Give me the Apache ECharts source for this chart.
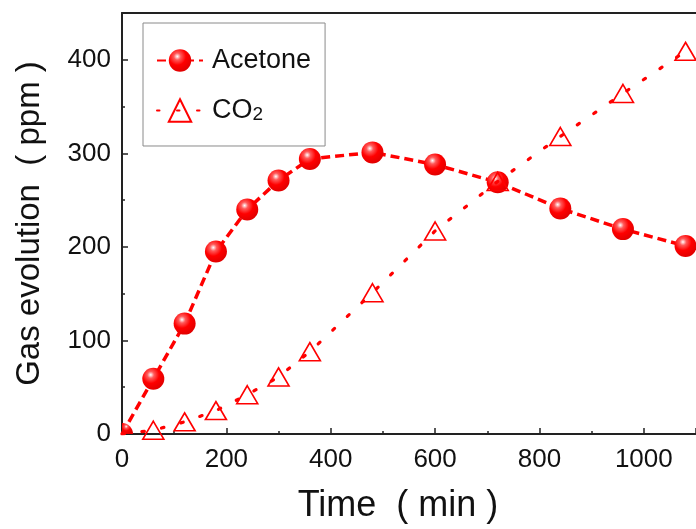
<!DOCTYPE html>
<html lang="en">
<head>
    <meta charset="utf-8">
    <title>Gas evolution</title>
    <script type="text/javascript" src="https://cdn.jsdelivr.net/npm/echarts@6/dist/echarts.min.js"></script>
    <style>
        html, body { margin: 0; padding: 0; background: #fff; }
        #main { width: 696px; height: 529px; }
    </style>
</head>
<body>
<div id="main"></div>
<script>
    // data
    var timeMin = [0, 60, 120, 180, 240, 300, 360, 480, 600, 720, 840, 960, 1080];
    var acetone = [0, 59, 118, 195, 240, 271, 294, 301, 288, 269, 241, 219, 201];
    var co2 = [0, 4, 13, 25, 42, 61, 88, 151, 217, 270, 318, 364, 409];
    var yTicks = [0, 100, 200, 300, 400];
    var xTicks = [0, 200, 400, 600, 800, 1000];

    var FONT = '"Liberation Sans", Arial, "Noto Sans CJK SC", sans-serif';
    var RED = '#ff0000';

    function pairs(ys) {
        return timeMin.map(function (t, i) { return [t, ys[i]]; });
    }

    var sphere = {
        type: 'radial', x: 0.38, y: 0.32, r: 0.7,
        colorStops: [
            {offset: 0, color: '#ffffff'},
            {offset: 0.22, color: '#ff5a5a'},
            {offset: 0.55, color: '#ff0000'},
            {offset: 1, color: '#e00000'}
        ]
    };

    var acetoneData = pairs(acetone);
    // origin marker is clipped by the axes in the original: only a quarter shows
    acetoneData[0] = {
        value: acetoneData[0],
        symbol: 'path://M0,10 L0,0 A10,10 0 0 1 10,10 Z',
        symbolSize: [11, 11],
        symbolOffset: [5.5, -5.5]
    };
    var co2Data = pairs(co2);
    co2Data[0] = {value: co2Data[0], symbol: 'none'};

    var chart = echarts.init(document.getElementById('main'));
    var option = {
        backgroundColor: '#fff',
        animation: false,
        grid: {left: 122, right: -4, top: 13, bottom: 92, containLabel: false},
        legend: {
            left: 143, top: 23,
            orient: 'vertical',
            padding: [24, 14, 22, 13],
            itemGap: 23,
            itemWidth: 46, itemHeight: 28,
            borderColor: '#8a8a8a', borderWidth: 1,
            data: ['Acetone', 'CO2'],
            formatter: function (name) {
                return name === 'CO2' ? 'CO{sub|2}' : name;
            },
            textStyle: {
                fontFamily: FONT, fontSize: 27, color: '#111',
                padding: [0, 18, 0, 4],
                width: 100,
                rich: {
                    sub: {fontFamily: FONT, fontSize: 19, color: '#111', verticalAlign: 'bottom', padding: [8, 0, 0, 0]}
                }
            }
        },
        xAxis: [{
            type: 'value', min: 0, max: 1100, interval: 200,
            name: 'Time  ( min )', nameLocation: 'middle', nameGap: 54,
            nameTextStyle: {fontFamily: FONT, fontSize: 36, color: '#111', padding: [0, 22, 0, 0]},
            axisLine: {onZero: false, lineStyle: {color: '#222', width: 2}},
            axisTick: {inside: true, length: 6, lineStyle: {color: '#222', width: 1.5}},
            minorTick: {show: true, splitNumber: 2, length: 3, lineStyle: {color: '#222', width: 1.5}},
            axisLabel: {
                fontFamily: FONT, fontSize: 26, color: '#111', margin: 13,
                showMaxLabel: false,
                formatter: function (v) { return xTicks.indexOf(v) >= 0 ? String(v) : ''; }
            },
            splitLine: {show: false}
        }, {
            type: 'value', position: 'top', min: 0, max: 1100,
            axisLine: {show: true, onZero: false, lineStyle: {color: '#222', width: 2}},
            axisTick: {show: false}, axisLabel: {show: false}, splitLine: {show: false}
        }],
        yAxis: [{
            type: 'value', min: 0, max: 450, interval: 100,
            name: 'Gas evolution  ( ppm )', nameLocation: 'middle', nameGap: 76,
            nameTextStyle: {fontFamily: FONT, fontSize: 33, color: '#111'},
            axisLine: {show: true, onZero: false, lineStyle: {color: '#222', width: 2}},
            axisTick: {show: true, inside: true, length: 6, lineStyle: {color: '#222', width: 1.5}},
            minorTick: {show: true, splitNumber: 2, length: 3, lineStyle: {color: '#222', width: 1.5}},
            axisLabel: {
                fontFamily: FONT, fontSize: 26, color: '#111', margin: 11,
                showMaxLabel: false,
                formatter: function (v) { return yTicks.indexOf(v) >= 0 ? String(v) : ''; }
            },
            splitLine: {show: false}
        }],
        series: [{
            name: 'Acetone',
            type: 'line',
            data: acetoneData,
            symbol: 'circle',
            symbolSize: 22,
            itemStyle: {color: sphere},
            lineStyle: {color: RED, width: 3.5, type: [9, 5]},
            z: 2
        }, {
            name: 'CO2',
            type: 'line',
            data: co2Data,
            symbol: 'triangle',
            symbolSize: [21, 18],
            itemStyle: {color: 'rgba(255,255,255,0)', borderColor: RED, borderWidth: 1.6},
            lineStyle: {color: RED, width: 3.2, type: [2.5, 17.5], cap: 'round'},
            z: 3
        }]
    };
    chart.setOption(option);
</script>
</body>
</html>
